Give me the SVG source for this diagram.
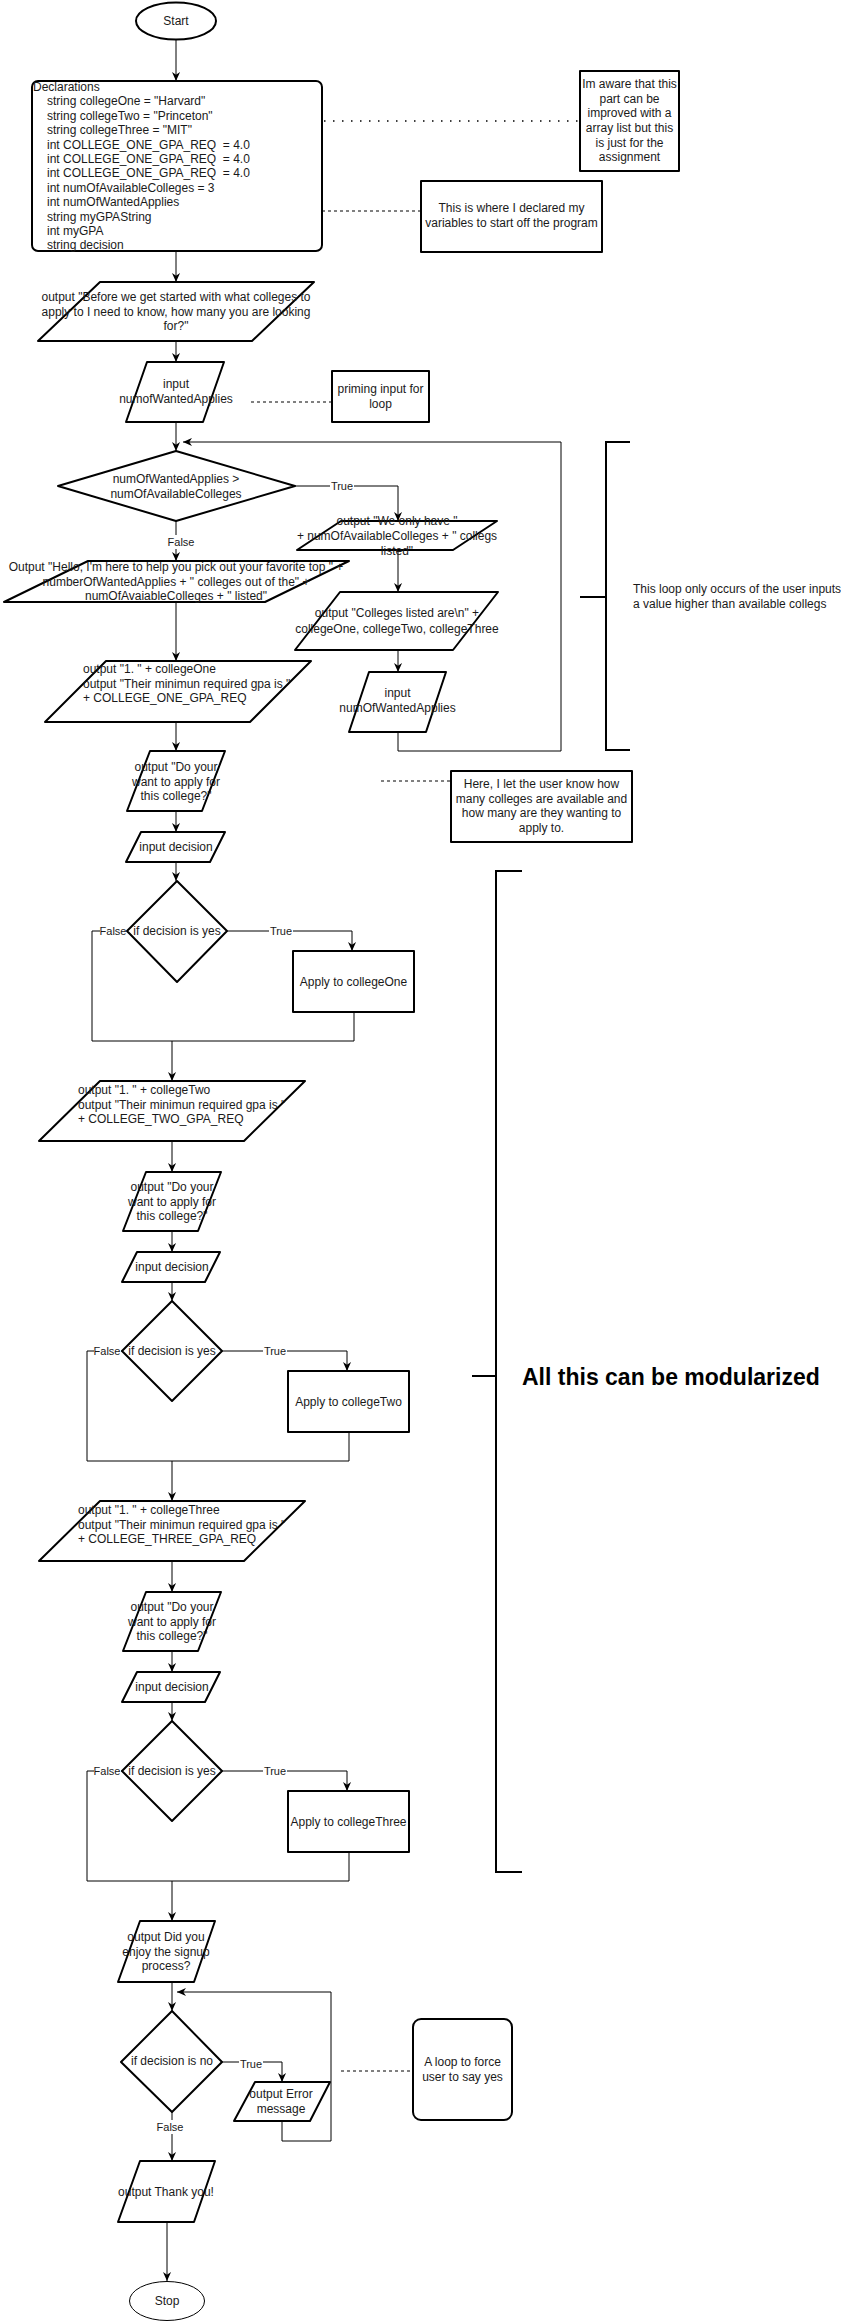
<svg xmlns="http://www.w3.org/2000/svg" width="841" height="2322" viewBox="0 0 841 2322">
<style>
.s{fill:#fff;stroke:#000;stroke-width:2;stroke-linejoin:round}
.t{font-family:"Liberation Sans",Arial,sans-serif;font-size:12px;fill:#1a1a1a;dominant-baseline:central}
.c{text-anchor:middle}
.e{fill:none;stroke:#000;stroke-width:1}
.a{marker-end:url(#arr)}
.d{fill:none;stroke:#000;stroke-width:1;stroke-dasharray:3 3}
.dot{fill:none;stroke:#000;stroke-width:1.5;stroke-dasharray:1.5 7.5}
.br{fill:none;stroke:#000;stroke-width:2}
.lb{fill:#fff}
.l{font-size:11px}
</style>
<defs>
<marker id="arr" viewBox="0 0 10 10" refX="10" refY="5" markerWidth="9" markerHeight="9" markerUnits="userSpaceOnUse" orient="auto">
<path d="M0,0.5 L10,5 L0,9.5 L3,5 z" fill="#000"/>
</marker>
</defs>

<g id="connectors">
<path class="e a" d="M176,40 V81"/>
<path class="e a" d="M176,251 V282"/>
<path class="e a" d="M176,341 V362"/>
<path class="e a" d="M176,422 V451"/>
<path class="e a" d="M398,732 V751 H561 V442 H183"/>
<path class="e a" d="M295,486 H398 V521"/>
<path class="e a" d="M398,551 V592"/>
<path class="e a" d="M398,650 V672"/>
<path class="e a" d="M176,521 V561"/>
<path class="e a" d="M176,602 V661"/>
<path class="e a" d="M176,722 V751"/>
<path class="e a" d="M176,811 V832"/>
<path class="e a" d="M176,862 V881"/>
<path class="e a" d="M227,931 H352 V951"/>
<path class="e a" d="M127,931 H92 V1041 H172 V1081"/>
<path class="e" d="M354,1012 V1041 H172"/>
<path class="e a" d="M172,1141 V1172"/>
<path class="e a" d="M172,1231 V1252"/>
<path class="e a" d="M172,1282 V1301"/>
<path class="e a" d="M222,1351 H347 V1371"/>
<path class="e a" d="M122,1351 H87 V1461 H172 V1501"/>
<path class="e" d="M349,1432 V1461 H172"/>
<path class="e a" d="M172,1561 V1592"/>
<path class="e a" d="M172,1651 V1672"/>
<path class="e a" d="M172,1702 V1721"/>
<path class="e a" d="M222,1771 H347 V1791"/>
<path class="e a" d="M122,1771 H87 V1881 H172 V1921"/>
<path class="e" d="M349,1852 V1881 H172"/>
<path class="e a" d="M172,1982 V2011"/>
<path class="e a" d="M282,2121 V2141 H331 V1992 H177"/>
<path class="e a" d="M222,2062 H282 V2082"/>
<path class="e a" d="M172,2112 V2161"/>
<path class="e a" d="M167,2222 V2281"/>
<rect class="lb" x="330" y="479" width="24" height="14"/><text class="t c l" x="342" y="486">True</text>
<rect class="lb" x="168" y="535" width="27" height="14"/><text class="t c l" x="181" y="542">False</text>
<rect class="lb" x="269" y="924" width="24" height="14"/><text class="t c l" x="281" y="931">True</text>
<rect class="lb" x="100" y="924" width="27" height="14"/><text class="t c l" x="113" y="931">False</text>
<rect class="lb" x="263" y="1344" width="24" height="14"/><text class="t c l" x="275" y="1351">True</text>
<rect class="lb" x="94" y="1344" width="27" height="14"/><text class="t c l" x="107" y="1351">False</text>
<rect class="lb" x="263" y="1764" width="24" height="14"/><text class="t c l" x="275" y="1771">True</text>
<rect class="lb" x="94" y="1764" width="27" height="14"/><text class="t c l" x="107" y="1771">False</text>
<rect class="lb" x="239" y="2057" width="24" height="14"/><text class="t c l" x="251" y="2064">True</text>
<rect class="lb" x="157" y="2120" width="27" height="14"/><text class="t c l" x="170" y="2127">False</text>
<path class="dot" d="M324,121 H580"/>
<path class="d" d="M322,211 H421"/>
<path class="d" d="M251,402 H332"/>
<path class="d" d="M381,781 H451"/>
<path class="d" d="M341,2071 H413"/>
</g>

<g id="start">
<ellipse class="s" cx="176" cy="21" rx="40" ry="18.5"/>
<text class="t c" x="176" y="21">Start</text>
</g>

<g id="declarations">
<rect class="s" x="32" y="81" width="290" height="170" rx="6"/>
<text class="t" x="33" y="87">Declarations</text>
<text class="t" x="47" y="101.4">string collegeOne = "Harvard"</text>
<text class="t" x="47" y="115.8">string collegeTwo = "Princeton"</text>
<text class="t" x="47" y="130.2">string collegeThree = "MIT"</text>
<text class="t" x="47" y="144.6">int COLLEGE_ONE_GPA_REQ &#160;= 4.0</text>
<text class="t" x="47" y="159">int COLLEGE_ONE_GPA_REQ &#160;= 4.0</text>
<text class="t" x="47" y="173.4">int COLLEGE_ONE_GPA_REQ &#160;= 4.0</text>
<text class="t" x="47" y="187.8">int numOfAvailableColleges = 3</text>
<text class="t" x="47" y="202.2">int numOfWantedApplies</text>
<text class="t" x="47" y="216.6">string myGPAString</text>
<text class="t" x="47" y="231">int myGPA</text>
<text class="t" x="47" y="245.4">string decision</text>
</g>

<g id="note-aware">
<rect class="s" x="580" y="71" width="99" height="100"/>
<text class="t c" x="629.5" y="84">Im aware that this</text>
<text class="t c" x="629.5" y="99">part can be</text>
<text class="t c" x="629.5" y="113">improved with a</text>
<text class="t c" x="629.5" y="128">array list but this</text>
<text class="t c" x="629.5" y="143">is just for the</text>
<text class="t c" x="629.5" y="157">assignment</text>
</g>

<g id="note-declared">
<rect class="s" x="421" y="181" width="181" height="71"/>
<text class="t c" x="511.5" y="208">This is where I declared my</text>
<text class="t c" x="511.5" y="223">variables to start off the program</text>
</g>

<g id="out-before">
<path class="s" d="M100,282 H314 L252,341 H38 Z"/>
<text class="t c" x="176" y="297">output "Before we get started with what colleges to</text>
<text class="t c" x="176" y="311.5">apply to I need to know, how many you are looking</text>
<text class="t c" x="176" y="326">for?"</text>
</g>

<g id="in-wanted">
<path class="s" d="M147,362 H224 L203,422 H126 Z"/>
<text class="t c" x="176" y="384">input</text>
<text class="t c" x="176" y="398.5">numofWantedApplies</text>
</g>

<g id="note-priming">
<rect class="s" x="332" y="371" width="97" height="51"/>
<text class="t c" x="380.5" y="389">priming input for</text>
<text class="t c" x="380.5" y="404">loop</text>
</g>

<g id="dec-wanted">
<path class="s" d="M176,451 L295,486 L176,521 L58,486 Z"/>
<text class="t c" x="176" y="479">numOfWantedApplies &gt;</text>
<text class="t c" x="176" y="493.5">numOfAvailableColleges</text>
</g>

<g id="out-weonly">
<path class="s" d="M341,521 H497 L453,550 H297 Z"/>
<text class="t c" x="397" y="521">output "We only have "</text>
<text class="t c" x="397" y="536">+ numOfAvailableColleges + " collegs</text>
<text class="t c" x="397" y="551">listed"</text>
</g>

<g id="out-listed">
<path class="s" d="M340,592 H498 L453,650 H295 Z"/>
<text class="t c" x="397" y="613">output "Colleges listed are\n" +</text>
<text class="t c" x="397" y="628.5">collegeOne, collegeTwo, collegeThree</text>
</g>

<g id="in-wanted2">
<path class="s" d="M369,672 H446 L426,732 H349 Z"/>
<text class="t c" x="397.5" y="693">input</text>
<text class="t c" x="397.5" y="708">numOfWantedApplies</text>
</g>

<g id="loop-bracket">
<path class="br" d="M630,442 H606 V750 H630 M580,597 H606"/>
<text class="t" x="633" y="589">This loop only occurs of the user inputs</text>
<text class="t" x="633" y="604">a value higher than available collegs</text>
</g>

<g id="out-hello">
<path class="s" d="M88,561 H349 L265,602 H4 Z"/>
<text class="t c" x="176" y="567">Output "Hello, I'm here to help you pick out your favorite top " +</text>
<text class="t c" x="176" y="581.5">numberOfWantedApplies + " colleges out of the" +</text>
<text class="t c" x="176" y="596">numOfAvaiableColleges + " listed"</text>
</g>

<g id="out-one">
<path class="s" d="M106,661 H311 L250,722 H45 Z"/>
<text class="t" x="83" y="669">output "1. " + collegeOne</text>
<text class="t" x="83" y="683.5">output "Their minimun required gpa is "</text>
<text class="t" x="83" y="698">+ COLLEGE_ONE_GPA_REQ</text>
</g>

<g id="note-here">
<rect class="s" x="451" y="771" width="181" height="71"/>
<text class="t c" x="541.5" y="784">Here, I let the user know how</text>
<text class="t c" x="541.5" y="799">many colleges are available and</text>
<text class="t c" x="541.5" y="813">how many are they wanting to</text>
<text class="t c" x="541.5" y="828">apply to.</text>
</g>

<g id="out-do1">
<path class="s" d="M150,751 H225 L202,811 H127 Z"/>
<text class="t c" x="176" y="767">output "Do your</text>
<text class="t c" x="176" y="781.5">want to apply for</text>
<text class="t c" x="176" y="796">this college?"</text>
</g>

<g id="in-dec1">
<path class="s" d="M141,832 H225 L210,862 H126 Z"/>
<text class="t c" x="176" y="846.5">input decision</text>
</g>

<g id="dec-yes1">
<path class="s" d="M177,881 L227,931 L177,982 L127,931 Z"/>
<text class="t c" x="177" y="931">if decision is yes</text>
</g>

<g id="apply-one">
<rect class="s" x="293" y="951" width="121" height="61"/>
<text class="t c" x="353.5" y="981.5">Apply to collegeOne</text>
</g>

<g id="out-two">
<path class="s" d="M100,1081 H305 L244,1141 H39 Z"/>
<text class="t" x="78" y="1090">output "1. " + collegeTwo</text>
<text class="t" x="78" y="1104.5">output "Their minimun required gpa is "</text>
<text class="t" x="78" y="1119">+ COLLEGE_TWO_GPA_REQ</text>
</g>

<g id="out-do2">
<path class="s" d="M146,1172 H221 L198,1231 H123 Z"/>
<text class="t c" x="172" y="1187">output "Do your</text>
<text class="t c" x="172" y="1201.5">want to apply for</text>
<text class="t c" x="172" y="1216">this college?"</text>
</g>

<g id="in-dec2">
<path class="s" d="M137,1252 H220 L205,1282 H122 Z"/>
<text class="t c" x="172" y="1266.5">input decision</text>
</g>

<g id="dec-yes2">
<path class="s" d="M172,1301 L222,1351 L172,1401 L122,1351 Z"/>
<text class="t c" x="172" y="1351">if decision is yes</text>
</g>

<g id="apply-two">
<rect class="s" x="288" y="1371" width="121" height="61"/>
<text class="t c" x="348.5" y="1401.5">Apply to collegeTwo</text>
</g>

<g id="out-three">
<path class="s" d="M100,1501 H305 L244,1561 H39 Z"/>
<text class="t" x="78" y="1510">output "1. " + collegeThree</text>
<text class="t" x="78" y="1524.5">output "Their minimun required gpa is "</text>
<text class="t" x="78" y="1539">+ COLLEGE_THREE_GPA_REQ</text>
</g>

<g id="out-do3">
<path class="s" d="M146,1592 H221 L198,1651 H123 Z"/>
<text class="t c" x="172" y="1607">output "Do your</text>
<text class="t c" x="172" y="1621.5">want to apply for</text>
<text class="t c" x="172" y="1636">this college?"</text>
</g>

<g id="in-dec3">
<path class="s" d="M137,1672 H220 L205,1702 H122 Z"/>
<text class="t c" x="172" y="1686.5">input decision</text>
</g>

<g id="dec-yes3">
<path class="s" d="M172,1721 L222,1771 L172,1821 L122,1771 Z"/>
<text class="t c" x="172" y="1771">if decision is yes</text>
</g>

<g id="apply-three">
<rect class="s" x="288" y="1791" width="121" height="61"/>
<text class="t c" x="348.5" y="1821.5">Apply to collegeThree</text>
</g>

<g id="modular-bracket">
<path class="br" d="M522,871 H496 V1872 H522 M472,1376 H496"/>
<text x="522" y="1377" style="font-family:'Liberation Sans',Arial,sans-serif;font-size:23px;font-weight:bold;fill:#000;dominant-baseline:central">All this can be modularized</text>
</g>

<g id="out-enjoy">
<path class="s" d="M140,1921 H215 L194,1982 H118 Z"/>
<text class="t c" x="166" y="1937">output Did you</text>
<text class="t c" x="166" y="1951.5">enjoy the signup</text>
<text class="t c" x="166" y="1966">process?</text>
</g>

<g id="dec-no">
<path class="s" d="M172,2011 L222,2062 L172,2112 L121,2062 Z"/>
<text class="t c" x="172" y="2061">if decision is no</text>
</g>

<g id="out-error">
<path class="s" d="M255,2082 H330 L310,2121 H234 Z"/>
<text class="t c" x="281" y="2094">output Error</text>
<text class="t c" x="281" y="2109">message</text>
</g>

<g id="note-force">
<rect class="s" x="413" y="2019" width="99" height="101" rx="8"/>
<text class="t c" x="462.5" y="2062">A loop to force</text>
<text class="t c" x="462.5" y="2077">user to say yes</text>
</g>

<g id="out-thanks">
<path class="s" d="M140,2161 H215 L194,2222 H118 Z"/>
<text class="t c" x="166" y="2191.5">output Thank you!</text>
</g>

<g id="stop">
<ellipse cx="167" cy="2301" rx="37.5" ry="19.5" fill="#fff" stroke="#000" stroke-width="1"/>
<text class="t c" x="167" y="2301">Stop</text>
</g>
</svg>
